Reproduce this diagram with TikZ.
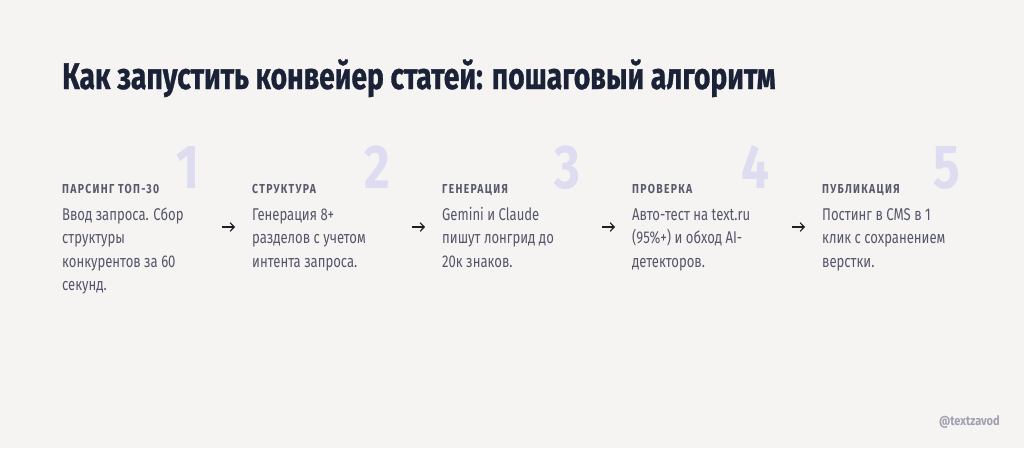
\documentclass[tikz,border=0pt]{standalone}
\usepackage{fontspec}
\usetikzlibrary{arrows.meta}
\newfontfamily\titlefont[FakeStretch=0.763,FakeBold=0.8]{Fira Sans}
\newfontfamily\bodyfont[FakeStretch=0.77]{Fira Sans}
\newfontfamily\headfont[FakeStretch=0.80,LetterSpace=10]{Fira Sans}
\newfontfamily\footfont[FakeStretch=0.85]{Fira Sans}
\newfontfamily\numfont[FakeStretch=0.80]{Fira Sans}
\definecolor{bgc}{HTML}{F5F4F2}
\definecolor{titlec}{HTML}{1B2238}
\definecolor{headc}{HTML}{5A5A6B}
\definecolor{bodyc}{HTML}{56566A}
\definecolor{numc}{HTML}{DDDCF0}
\definecolor{arrc}{HTML}{1E1E24}
\definecolor{footc}{HTML}{A0A0B0}
\tikzset{
  title/.style={anchor=base west, inner sep=0pt, text=titlec, font=\titlefont\bfseries\fontsize{37}{40}\selectfont},
  stephead/.style={anchor=base west, inner sep=0pt, text=headc, font=\headfont\bfseries\fontsize{13}{15}\selectfont},
  stepbody/.style={anchor=base west, inner sep=0pt, text=bodyc, align=left, font=\bodyfont\fontsize{17}{23.6}\selectfont},
  stepnum/.style={anchor=base east, inner sep=0pt, text=numc, font=\numfont\bfseries\fontsize{62}{64}\selectfont},
  steparrow/.style={draw=arrc, line width=1.2pt, -{Straight Barb[length=4pt,width=8.5pt]}},
  foot/.style={anchor=base east, inner sep=0pt, text=footc, font=\footfont\bfseries\fontsize{13}{15}\selectfont}
}
\begin{document}
\begin{tikzpicture}[x=1pt,y=-1pt]
\fill[bgc] (0,0) rectangle (1024,448);
\useasboundingbox (0,0) rectangle (1024,448);
\node[title] (t) at (62,89) {Как запустить конвейер статей: пошаговый алгоритм};
% numbers
\node[stepnum] (n1) at (200,188) {1};
\node[stepnum] (n2) at (390,188) {2};
\node[stepnum] (n3) at (580,188) {3};
\node[stepnum] (n4) at (770,188) {4};
\node[stepnum] (n5) at (960,188) {5};
% headings
\node[stephead] (h1) at (62,193) {ПАРСИНГ ТОП-30};
\node[stephead] (h2) at (252,193) {СТРУКТУРА};
\node[stephead] (h3) at (442,193) {ГЕНЕРАЦИЯ};
\node[stephead] (h4) at (632,193) {ПРОВЕРКА};
\node[stephead] (h5) at (822,193) {ПУБЛИКАЦИЯ};
% bodies (anchor = baseline of last line; first baseline at 220)
\node[stepbody] (b1) at (62,290.8) {Ввод запроса. Сбор\\структуры\\конкурентов за 60\\секунд.};
\node[stepbody] (b2) at (252,267.2) {Генерация 8+\\разделов с учетом\\интента запроса.};
\node[stepbody] (b3) at (442,267.2) {Gemini и Claude\\пишут лонгрид до\\20к знаков.};
\node[stepbody] (b4) at (632,267.2) {Авто-тест на text.ru\\(95\%+) и обход AI-\\детекторов.};
\node[stepbody] (b5) at (822,267.2) {Постинг в CMS в 1\\клик с сохранением\\верстки.};
% arrows
\foreach \i in {0,1,2,3} {
  \coordinate (as\i) at (222+190*\i,227);
  \coordinate (ae\i) at (235+190*\i,227);
  \draw[steparrow] (as\i) -- (ae\i);
}
\node[foot] (f) at (1000,425) {@textzavod};
\end{tikzpicture}
\end{document}
